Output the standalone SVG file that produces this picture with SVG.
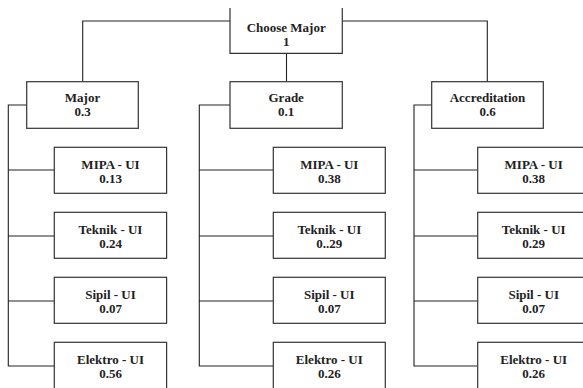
<svg xmlns="http://www.w3.org/2000/svg" width="583" height="388" viewBox="0 0 583 388">
<style>
.box{fill:#fff;stroke:#333;stroke-width:1.2}
.ln{fill:none;stroke:#222;stroke-width:1.1}
</style>
<rect width="583" height="388" fill="#fff"/>
<g id="connectors">
<path class="ln" d="M230,21 H82.7 V81.7"/>
<path class="ln" d="M342.3,21 H487.3 V81.7"/>
<path class="ln" d="M286.5,53.3 V81.7"/>
<path class="ln" d="M26.7,105 H8.3 V366 H54.3 M8.3,170 H54.3 M8.3,236 H54.3 M8.3,301 H54.3"/>
<path class="ln" d="M230,105 H199.3 V366 H273.3 M199.3,170 H273.3 M199.3,236 H273.3 M199.3,301 H273.3"/>
<path class="ln" d="M431.7,105 H414 V366 H477.7 M414,170 H477.7 M414,236 H477.7 M414,301 H477.7"/>
</g>
<g font-family="Liberation Serif, DejaVu Serif, serif" font-weight="bold" font-size="13" fill="#222" text-anchor="middle">
<g id="root">
<path class="box" d="M230,8 V53.3 H342.3 V8"/>
<text x="286.2" y="31.5">Choose Major</text>
<text x="286.2" y="46">1</text>
</g>
<g id="major">
<rect class="box" x="26.7" y="81.7" width="111.6" height="46.6"/>
<text x="82.5" y="101.5">Major</text>
<text x="82.5" y="116">0.3</text>
</g>
<g id="grade">
<rect class="box" x="230" y="81.7" width="112.3" height="46.6"/>
<text x="286.2" y="101.5">Grade</text>
<text x="286.2" y="116">0.1</text>
</g>
<g id="accreditation">
<rect class="box" x="431.7" y="81.7" width="111.6" height="46.6"/>
<text x="487.5" y="101.5">Accreditation</text>
<text x="487.5" y="116">0.6</text>
</g>
<g id="major-mipa"><rect class="box" x="54.3" y="147.3" width="112.3" height="46"/><text x="110.5" y="168.5">MIPA - UI</text><text x="110.5" y="182.5">0.13</text></g>
<g id="major-teknik"><rect class="box" x="54.3" y="212.3" width="112.3" height="46"/><text x="110.5" y="233.5">Teknik - UI</text><text x="110.5" y="247.5">0.24</text></g>
<g id="major-sipil"><rect class="box" x="54.3" y="277.3" width="112.3" height="46"/><text x="110.5" y="298.5">Sipil - UI</text><text x="110.5" y="312.5">0.07</text></g>
<g id="major-elektro"><rect class="box" x="54.3" y="342.3" width="112.3" height="48"/><text x="110.5" y="363.5">Elektro - UI</text><text x="110.5" y="377.5">0.56</text></g>
<g id="grade-mipa"><rect class="box" x="273.3" y="147.3" width="112" height="46"/><text x="329.3" y="168.5">MIPA - UI</text><text x="329.3" y="182.5">0.38</text></g>
<g id="grade-teknik"><rect class="box" x="273.3" y="212.3" width="112" height="46"/><text x="329.3" y="233.5">Teknik - UI</text><text x="329.3" y="247.5">0..29</text></g>
<g id="grade-sipil"><rect class="box" x="273.3" y="277.3" width="112" height="46"/><text x="329.3" y="298.5">Sipil - UI</text><text x="329.3" y="312.5">0.07</text></g>
<g id="grade-elektro"><rect class="box" x="273.3" y="342.3" width="112" height="48"/><text x="329.3" y="363.5">Elektro - UI</text><text x="329.3" y="377.5">0.26</text></g>
<g id="accr-mipa"><rect class="box" x="477.7" y="147.3" width="112" height="46"/><text x="533.7" y="168.5">MIPA - UI</text><text x="533.7" y="182.5">0.38</text></g>
<g id="accr-teknik"><rect class="box" x="477.7" y="212.3" width="112" height="46"/><text x="533.7" y="233.5">Teknik - UI</text><text x="533.7" y="247.5">0.29</text></g>
<g id="accr-sipil"><rect class="box" x="477.7" y="277.3" width="112" height="46"/><text x="533.7" y="298.5">Sipil - UI</text><text x="533.7" y="312.5">0.07</text></g>
<g id="accr-elektro"><rect class="box" x="477.7" y="342.3" width="112" height="48"/><text x="533.7" y="363.5">Elektro - UI</text><text x="533.7" y="377.5">0.26</text></g>
</g>
</svg>
